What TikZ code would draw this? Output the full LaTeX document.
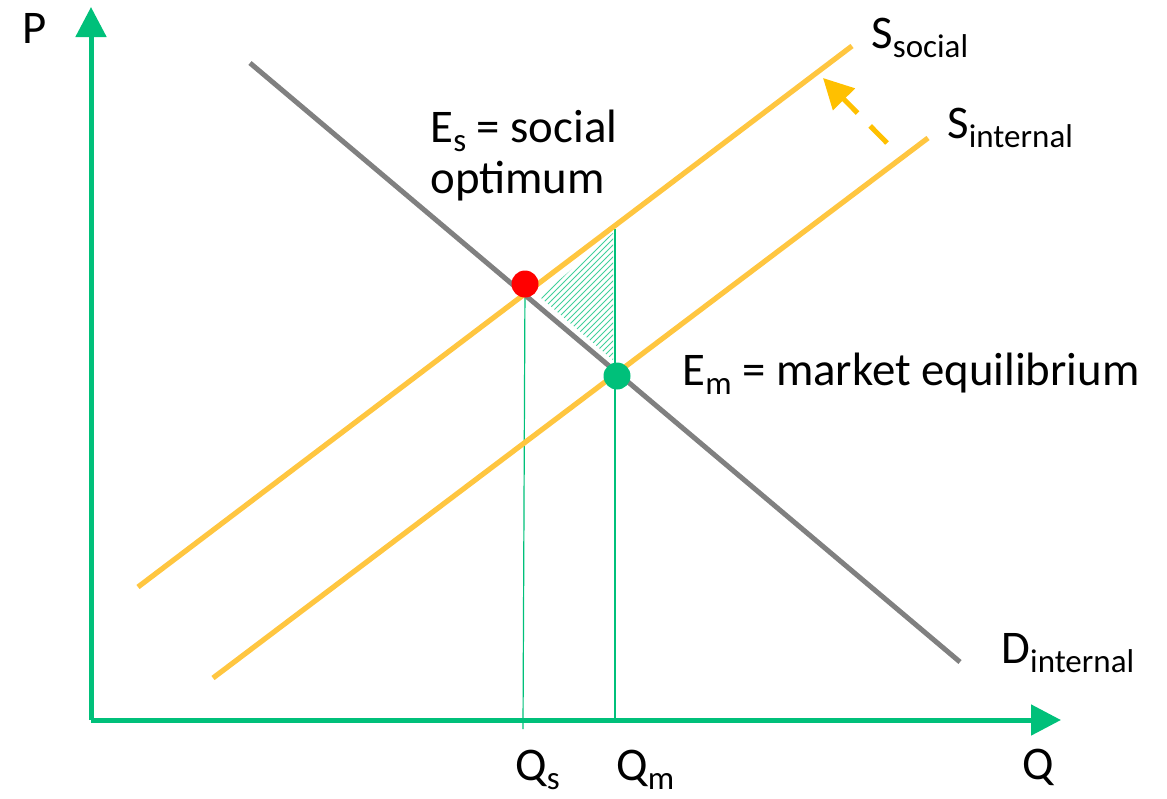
\documentclass[tikz,border=0pt]{standalone}
\usepackage{fontspec}
\setmainfont{Carlito}
\usetikzlibrary{positioning,patterns,arrows.meta}
\definecolor{axisgreen}{RGB}{0,192,122}
\definecolor{supplygold}{RGB}{255,198,64}
\definecolor{shiftgold}{RGB}{255,192,0}
\definecolor{demandgrey}{RGB}{128,128,128}
\newcommand{\lowsub}[1]{\raisebox{-4.5pt}{\fontsize{16.5}{16.5}\selectfont #1}}

\begin{document}
\begin{tikzpicture}[x=0.5pt,y=-0.5pt,
    axis/.style={axisgreen, line width=2.5pt, -{Triangle[length=15pt,width=15pt]}},
    supply/.style={supplygold, line width=2.6pt},
    demand/.style={demandgrey, line width=2.5pt},
    guide/.style={axisgreen, line width=0.6pt},
    dot/.style={circle, inner sep=0pt, minimum size=13.5pt},
    lbl/.style={anchor=base west, inner sep=0pt, font=\fontsize{23.4}{27}\selectfont}]
  \useasboundingbox (0,0) rectangle (1167,798);

  % Points
  \coordinate (O) at (91,720);
  \coordinate (Ptip) at (91,7);
  \coordinate (Qtip) at (1061,720);
  \coordinate (Dstart) at (250,63);
  \coordinate (Dend) at (960,662);
  \coordinate (SsocA) at (138,587);
  \coordinate (SsocB) at (852,46);
  \coordinate (SintA) at (213,678);
  \coordinate (SintB) at (928,138);
  \coordinate (EsPos) at (525,284);
  \coordinate (EmPos) at (617,376);
  \coordinate (Qs) at (523,729);
  \coordinate (Qm) at (615,720);
  \coordinate (QmTop) at (615,229);
  \coordinate (ShiftFrom) at (887,143);
  \coordinate (ShiftTo) at (823,78);

  % Deadweight loss
  \fill[pattern=north east lines, pattern color=axisgreen!75] (540,297) -- (613,233) -- (613,360) -- cycle;

  % Guides down to the axis
  \draw[guide] (EsPos) -- (Qs);
  \draw[guide] (QmTop) -- (Qm);

  % Curves
  \draw[demand] (Dstart) -- (Dend);
  \draw[supply] (SsocA) -- (SsocB);
  \draw[supply] (SintA) -- (SintB);

  % Shift of supply
  \draw[shiftgold, line width=2.5pt, dash pattern=on 12pt off 9pt,
        -{Triangle[length=15pt,width=15pt]}] (ShiftFrom) -- (ShiftTo);

  % Axes
  \draw[axis] (O) -- (Ptip);
  \draw[axis] (O) -- (Qtip);

  % Equilibria
  \node[dot, fill=red] (Es) at (EsPos) {};
  \node[dot, fill=axisgreen] (Em) at (EmPos) {};

  % Labels
  \node[lbl] (Plbl) at (22,43) {P};
  \node[lbl] (Qlbl) at (1022,779) {Q};
  \node[lbl] (Qslbl) at (515,780) {Q\lowsub{s}};
  \node[lbl] (Qmlbl) at (616,780) {Q\lowsub{m}};
  \node[lbl] (Ssoclbl) at (871,48) {S\lowsub{social}};
  \node[lbl] (Sintlbl) at (947,138) {S\lowsub{internal}};
  \node[lbl] (Dintlbl) at (1001,663) {D\lowsub{internal}};
  \node[lbl] (Eslbl) at (430,142) {E\lowsub{s} = social};
  \node[lbl] (Eslbl2) at (430,193) {optimum};
  \node[lbl] (Emlbl) at (682,385) {E\lowsub{m} = market equilibrium};
\end{tikzpicture}
\end{document}
